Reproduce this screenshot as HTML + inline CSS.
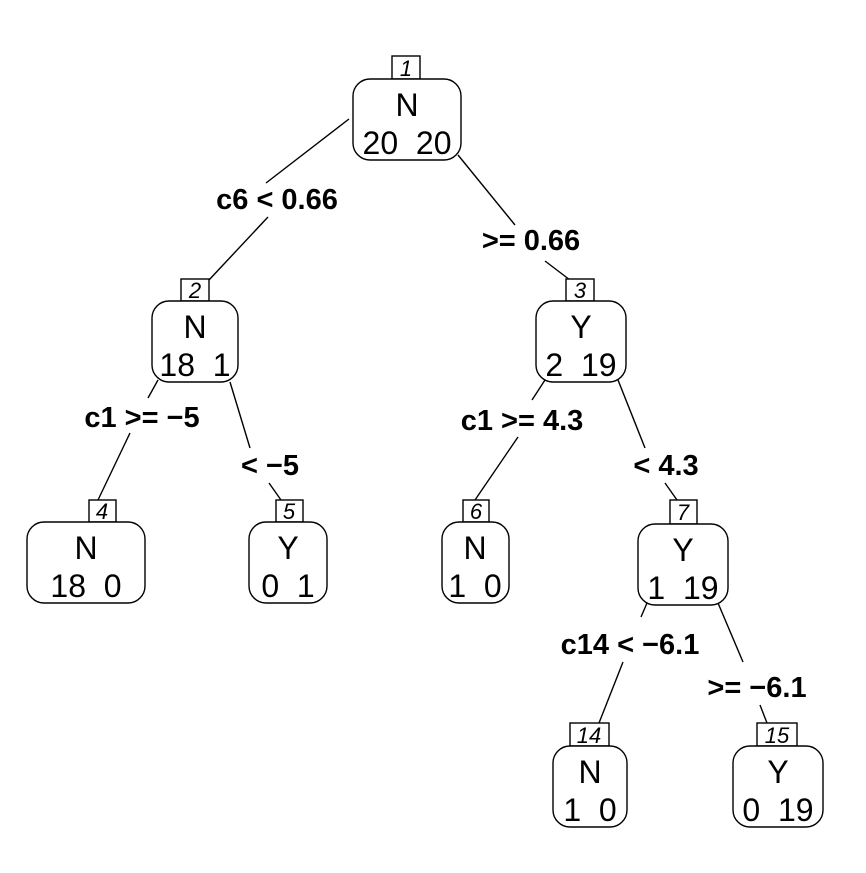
<!DOCTYPE html>
<html><head><style>body{margin:0;background:#fff}svg{display:block}text{white-space:pre}</style></head><body>
<svg width="866" height="873" xmlns="http://www.w3.org/2000/svg" font-family="Liberation Sans, Arial, sans-serif">
<g stroke="#000" stroke-width="1.4" fill="none">
<line x1="349" y1="119" x2="266" y2="183"/><line x1="268" y1="217" x2="209" y2="280"/>
<line x1="458" y1="155" x2="515" y2="225"/><line x1="545" y1="261" x2="570" y2="280"/>
<line x1="158" y1="380" x2="148" y2="398"/><line x1="130" y1="433" x2="98" y2="500"/>
<line x1="230" y1="382" x2="250" y2="448"/><line x1="269" y1="483" x2="281" y2="500"/>
<line x1="545" y1="380" x2="532" y2="400"/><line x1="518" y1="437" x2="475" y2="500"/>
<line x1="618" y1="380" x2="645" y2="448"/><line x1="665" y1="483" x2="677" y2="500"/>
<line x1="647" y1="603" x2="641" y2="617"/><line x1="623" y1="662" x2="599" y2="723"/>
<line x1="718" y1="603" x2="743" y2="662"/><line x1="760" y1="705" x2="767" y2="723"/>
</g>
<g stroke="#000" stroke-width="1.4" fill="#fff">
<rect x="392" y="56" width="28" height="23"/><rect x="353" y="79" width="108" height="81" rx="17"/>
<rect x="181" y="279" width="28" height="22"/><rect x="152" y="301" width="86" height="81" rx="17"/>
<rect x="566" y="279" width="28" height="22"/><rect x="536" y="301" width="90" height="81" rx="17"/>
<rect x="89" y="500" width="27" height="22"/><rect x="27" y="522" width="118" height="81" rx="17"/>
<rect x="276" y="500" width="27" height="22"/><rect x="249" y="522" width="78" height="81" rx="17"/>
<rect x="463" y="500" width="26" height="22"/><rect x="442" y="522" width="67" height="81" rx="17"/>
<rect x="670" y="500" width="27" height="24"/><rect x="638" y="524" width="90" height="81" rx="17"/>
<rect x="570" y="723" width="39" height="23"/><rect x="553" y="746" width="74" height="81" rx="17"/>
<rect x="757" y="723" width="40" height="23"/><rect x="733" y="746" width="90" height="81" rx="17"/>
</g>
<g font-size="22" font-style="italic" text-anchor="middle">
<text x="406" y="76">1</text><text x="195" y="298">2</text><text x="580" y="298">3</text>
<text x="102" y="519">4</text><text x="289" y="519">5</text><text x="476" y="519">6</text>
<text x="683" y="520">7</text><text x="589" y="743">14</text><text x="777" y="743">15</text>
</g>
<g font-size="32" text-anchor="middle">
<text x="407" y="116">N</text><text x="407" y="154">20  20</text>
<text x="195" y="338">N</text><text x="195" y="376">18  1</text>
<text x="581" y="338">Y</text><text x="581" y="376">2  19</text>
<text x="86" y="559">N</text><text x="86" y="597">18  0</text>
<text x="288" y="559">Y</text><text x="288" y="597">0  1</text>
<text x="475" y="559">N</text><text x="475" y="597">1  0</text>
<text x="683" y="561">Y</text><text x="683" y="599">1  19</text>
<text x="590" y="783">N</text><text x="590" y="821">1  0</text>
<text x="778" y="783">Y</text><text x="778" y="821">0  19</text>
</g>
<g font-size="29" font-weight="bold" text-anchor="middle">
<text x="277" y="209">c6 &lt; 0.66</text>
<text x="531" y="250">&gt;= 0.66</text>
<text x="142" y="427">c1 &gt;= −5</text>
<text x="270" y="475">&lt; −5</text>
<text x="522" y="430">c1 &gt;= 4.3</text>
<text x="666" y="475">&lt; 4.3</text>
<text x="630" y="654">c14 &lt; −6.1</text>
<text x="757" y="697">&gt;= −6.1</text>
</g>
</svg>
</body></html>
